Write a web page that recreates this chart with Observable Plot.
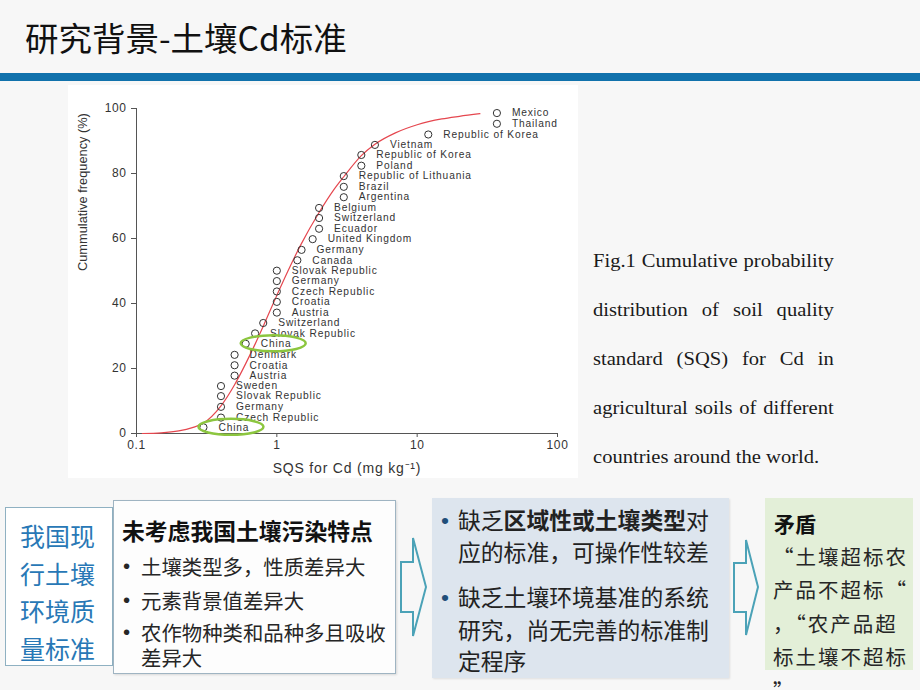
<!DOCTYPE html>
<html>
<head>
<meta charset="utf-8">
<script src="https://cdn.jsdelivr.net/npm/d3@7"></script>
<script src="https://cdn.jsdelivr.net/npm/@observablehq/plot@0.6"></script>
<style>
  html, body { margin: 0; padding: 0; background: #f7f7f7; }
  #slide { position: relative; width: 920px; height: 690px; overflow: hidden; background: #f7f7f7;
           font-family: "Noto Sans CJK SC", "Noto Sans", sans-serif; }
  .abs { position: absolute; white-space: nowrap; }
  #title { left: 25px; top: 12px; font-size: 33.5px; color: #111; line-height: 50px; }
  #bar { left: 0; top: 73px; width: 920px; height: 8px; background: #1172ac; }
  #chart { left: 68px; top: 85px; width: 510px; height: 393px; background: #fff; }
  #caption { left: 593px; top: 237px; width: 214px; font-family: "Liberation Serif", "Times New Roman", serif;
             font-size: 18.3px; color: #1a1a1a; transform: scaleX(1.125); transform-origin: 0 0; }
  #caption div { height: 49px; line-height: 49px; text-align: justify; text-align-last: justify; white-space: normal; }
  #caption div.last { text-align: left; text-align-last: left; }
  .box { position: absolute; box-sizing: border-box; }
  #boxA { left: 5px; top: 507px; width: 108px; height: 159px; border: 1px solid #8fb1c2; background: #fff; }
  #boxB { left: 113px; top: 500px; width: 283px; height: 174px; border: 1px solid #9fb4c2; background: #fdfdfd;
          box-shadow: 1px 1px 2px rgba(0,0,0,0.12); }
  #boxC { left: 432px; top: 498px; width: 297px; height: 180px; background: #dde5ee; box-shadow: 1px 1px 2px rgba(0,0,0,0.1); }
  #boxD { left: 765px; top: 498px; width: 148px; height: 172px; background: #e3efd8; }
  .la { font-size: 25px; color: #2878b6; line-height: 30px; }
  .lb { font-size: 20.4px; color: #262626; line-height: 24px; }
  .lbt { font-size: 22.8px; color: #111; font-weight: bold; line-height: 30px; }
  .lc { font-size: 22.8px; color: #222; line-height: 30px; }
  .ld { font-size: 20.5px; color: #262626; line-height: 33.5px; letter-spacing: 2px; }
  .bul { font-family: "Liberation Sans", Arial, sans-serif; }
</style>
</head>
<body>
<div id="slide">
  <div id="title" class="abs">研究背景-土壤Cd标准</div>
  <div id="bar" class="abs"></div>
  <div id="chart" class="abs"></div>

  <div id="caption" class="abs">
    <div>Fig.1 Cumulative probability</div>
    <div>distribution of soil quality</div>
    <div>standard (SQS) for Cd in</div>
    <div>agricultural soils of different</div>
    <div class="last">countries around the world.</div>
  </div>

  <div id="boxA" class="box"></div>
  <div class="abs la" style="left:20px; top:520px;">我国现</div>
  <div class="abs la" style="left:20px; top:558px;">行土壤</div>
  <div class="abs la" style="left:20px; top:595px;">环境质</div>
  <div class="abs la" style="left:20px; top:633px;">量标准</div>

  <div id="boxB" class="box"></div>
  <div class="abs lbt" style="left:122px; top:516px;">未考虑我国土壤污染特点</div>
  <div class="abs lb bul" style="left:123px; top:554px;">•</div>
  <div class="abs lb" style="left:141px; top:554px;">土壤类型多，性质差异大</div>
  <div class="abs lb bul" style="left:123px; top:588px;">•</div>
  <div class="abs lb" style="left:141px; top:588px;">元素背景值差异大</div>
  <div class="abs lb bul" style="left:123px; top:620px;">•</div>
  <div class="abs lb" style="left:141px; top:619.5px; line-height:25px;">农作物种类和品种多且吸收<br>差异大</div>

  <div id="boxC" class="box"></div>
  <div class="abs lc bul" style="left:441px; top:505px; color:#1f4e79;">•</div>
  <div class="abs lc" style="left:458px; top:505px;">缺乏<b>区域性或土壤类型</b>对</div>
  <div class="abs lc" style="left:458px; top:537px;">应的标准，可操作性较差</div>
  <div class="abs lc bul" style="left:441px; top:582px; color:#1f4e79;">•</div>
  <div class="abs lc" style="left:458px; top:582px;">缺乏土壤环境基准的系统</div>
  <div class="abs lc" style="left:458px; top:615px;">研究，尚无完善的标准制</div>
  <div class="abs lc" style="left:458px; top:646px;">定程序</div>

  <div id="boxD" class="box"></div>
  <div class="abs" style="left:774px; top:508px; font-size:21px; font-weight:bold; color:#111; line-height:30px;">矛盾</div>
  <div class="abs ld" style="left:773px; top:539.5px;">“土壤超标农<br>产品不超标“<br>，“农产品超<br>标土壤不超标<br>”</div>

  <svg class="abs" style="left:0; top:0;" width="920" height="690">
    <polygon points="401,562 413,562 413,538 426,587 413,636 413,612 401,612" fill="#f7f7f7" stroke="#4ba2b7" stroke-width="2" stroke-linejoin="miter"/>
    <polygon points="734,563 746,563 746,540 758,587 746,635 746,612 734,612" fill="#f7f7f7" stroke="#4ba2b7" stroke-width="2" stroke-linejoin="miter"/>
  </svg>
</div>

<script>
// Data
const countries = ["China","Czech Republic","Germany","Slovak Republic","Sweden","Austria","Croatia","Denmark",
  "China","Slovak Republic","Switzerland","Austria","Croatia","Czech Republic","Germany","Slovak Republic",
  "Canada","Germany","United Kingdom","Ecuador","Switzerland","Belgium","Argentina","Brazil",
  "Republic of Lithuania","Poland","Republic of Korea","Vietnam","Republic of Korea","Thailand","Mexico"];
const sqs = [0.3,0.4,0.4,0.4,0.4,0.5,0.5,0.5,0.6,0.7,0.8,1,1,1,1,1,1.4,1.5,1.8,2,2,2,3,3,3,4,4,5,12,37,37];
const cumFreq = [1.9,4.9,8.2,11.5,14.6,17.8,21.0,24.2,27.6,30.8,34.0,37.2,40.5,43.7,46.9,50.1,
  53.3,56.5,59.8,63.0,66.3,69.4,72.7,75.9,79.2,82.4,85.7,88.8,92.0,95.3,98.6];
const highlighted = ["China"];

// Fitted curve
const curveX = [0.11,0.15,0.2,0.25,0.3,0.4,0.5,0.6,0.7,0.8,1.0,1.2,1.5,2.0,2.5,3.0,4.0,5.0,7.0,10,15,20,28];
const curveY = [0,0.2,0.8,1.8,3.2,8.5,15,21.5,27.5,33,42.5,50,58.5,68,74.5,79,85.5,89,92.5,95,96.8,97.6,98.4];

const xTicks = [0.1, 1, 10, 100];
const yTicks = [0, 20, 40, 60, 80, 100];
const xTitle = "SQS for Cd (mg kg⁻¹)";
const yTitle = "Cummulative frequency (%)";

const points = countries.map((c, i) => ({country: c, sqs: sqs[i], freq: cumFreq[i]}));
const curve = curveX.map((x, i) => ({x, y: curveY[i]}));

const plot = Plot.plot({
  width: 510,
  height: 393,
  marginLeft: 68,
  marginRight: 21,
  marginTop: 23,
  marginBottom: 45,
  style: {fontFamily: "'Liberation Sans', Arial, sans-serif", background: "#fff", color: "#333"},
  x: {type: "log", domain: [0.1, 100]},
  y: {domain: [0, 100]},
  marks: [
    Plot.ruleX([0.1], {y1: 0, y2: 100, stroke: "#555"}),
    Plot.ruleY([0], {x1: 0.1, x2: 100, stroke: "#555"}),
    Plot.axisX({ticks: xTicks, tickFormat: d => String(d), tickSize: 4, tickPadding: 3, fontSize: 12, label: null, stroke: "#555"}),
    Plot.axisY({ticks: yTicks, tickSize: 5, tickPadding: 5, fontSize: 12, label: null, stroke: "#555"}),
    Plot.text([xTitle], {text: d => d, frameAnchor: "bottom", dy: 39, fontSize: 14, fill: "#333"}),
    Plot.text([yTitle], {text: d => d, frameAnchor: "left", dx: -54, rotate: -90, fontSize: 12.8, fill: "#333"}),
    Plot.line(curve, {x: "x", y: "y", curve: "monotone-x", stroke: "#e5474f", strokeWidth: 1.2}),
    Plot.dot(points, {x: "sqs", y: "freq", r: 3.6, stroke: "#333", fill: "none", strokeWidth: 1}),
    Plot.text(points, {x: "sqs", y: "freq", text: "country", dx: 15, textAnchor: "start", fontSize: 10.2, fill: "#333"})
  ]
});

// The reference picture is slightly stretched horizontally: widen the horizontal texts a little
const svg = d3.select(plot);
const tickTexts = xTicks.concat(yTicks).map(String);
svg.selectAll("text").each(function () {
  const t = this.textContent;
  if (countries.includes(t)) this.style.letterSpacing = "0.85px";
  else if (t === xTitle) this.style.letterSpacing = "0.8px";
  else if (tickTexts.includes(t)) this.style.letterSpacing = "0.6px";
});

// Green ellipses around highlighted labels, positioned via the plot's scales
const xs = plot.scale("x"), ys = plot.scale("y");
points.filter(p => highlighted.includes(p.country)).forEach(p => {
  svg.append("ellipse")
    .attr("cx", xs.apply(p.sqs) + 28)
    .attr("cy", ys.apply(p.freq))
    .attr("rx", 32.5)
    .attr("ry", 8)
    .attr("fill", "none")
    .attr("stroke", "#8cc63f")
    .attr("stroke-width", 2.5);
});

document.getElementById("chart").appendChild(plot);
</script>
</body>
</html>
